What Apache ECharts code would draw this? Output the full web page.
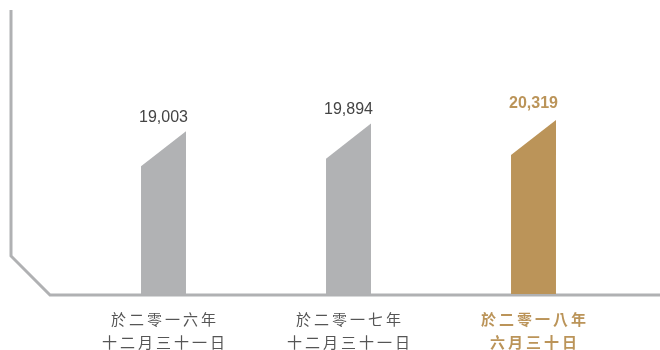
<!DOCTYPE html>
<html>
<head>
<meta charset="utf-8">
<script src="https://cdn.jsdelivr.net/npm/echarts@6/dist/echarts.min.js"></script>
<style>
  html, body { margin: 0; padding: 0; background: #fff; }
  #chart { width: 660px; height: 350px; }
</style>
</head>
<body>
<div id="chart"></div>
<script>
// 日期分類
const categories = ['於二零一六年\n十二月三十一日', '於二零一七年\n十二月三十一日', '於二零一八年\n六月三十日']
// 數值
const values = [19003, 19894, 20319]
const barColors = ['#b1b2b4', '#b1b2b4', '#bb9459']

const chart = echarts.init(document.getElementById('chart'))
const cjk = '"Noto Sans CJK TC", "Noto Sans CJK SC", sans-serif'

chart.setOption({
  animation: false,
  grid: { left: 71, width: 555, top: 37, bottom: 56, outerBoundsMode: 'none', containLabel: false },
  xAxis: {
    type: 'category',
    data: categories,
    axisLine: { show: false },
    axisTick: { show: false },
    axisLabel: {
      interval: 0,
      hideOverlap: false,
      margin: 14,
      formatter: function (value, idx) {
        const key = idx === 2 ? 'h' : 'n'
        // 每個字分開排，拉開字距
        return value.split('\n').map(function (line) {
          return line.split('').map(function (c) { return '{' + key + '|' + c + '}' }).join('')
        }).join('\n')
      },
      rich: {
        n: { fontSize: 15, lineHeight: 23, color: '#555', fontFamily: cjk, padding: [0, 1.5] },
        h: { fontSize: 15, lineHeight: 23, color: '#bb9459', fontWeight: 'bold', fontFamily: cjk, padding: [0, 1.5] }
      }
    }
  },
  yAxis: {
    type: 'value', min: 0, max: 30000,
    show: false
  },
  graphic: [{
    type: 'polyline',
    shape: { points: [[11, 10], [11, 256], [50, 295], [660, 295]] },
    style: { stroke: '#b0b1b3', lineWidth: 3, fill: null }
  }],
  series: [{
    type: 'custom',
    data: values.map(function (v, i) { return [i, v] }),
    renderItem: function (params, api) {
      const i = api.value(0)
      const v = api.value(1)
      const top = api.coord([i, v])
      const base = api.coord([i, 0])
      const w = api.size([1, 0])[0] * 0.243
      const slant = w * 0.78
      const hi = params.dataIndex === 2
      return {
        type: 'group',
        children: [{
          type: 'polygon',
          shape: {
            points: [
              [top[0] - w / 2, base[1]],
              [top[0] - w / 2, top[1] + slant],
              [top[0] + w / 2, top[1]],
              [top[0] + w / 2, base[1]]
            ]
          },
          style: { fill: barColors[params.dataIndex] }
        }, {
          type: 'text',
          style: {
            text: echarts.format.addCommas(v),
            x: top[0],
            y: top[1] - (hi ? 16 : 14),
            align: 'center',
            verticalAlign: 'middle',
            fill: hi ? '#bb9459' : '#444',
            fontSize: 16,
            fontWeight: hi ? 'bold' : 'normal',
            fontFamily: '"Liberation Sans", Arial, sans-serif'
          }
        }]
      }
    }
  }]
})
</script>
</body>
</html>
